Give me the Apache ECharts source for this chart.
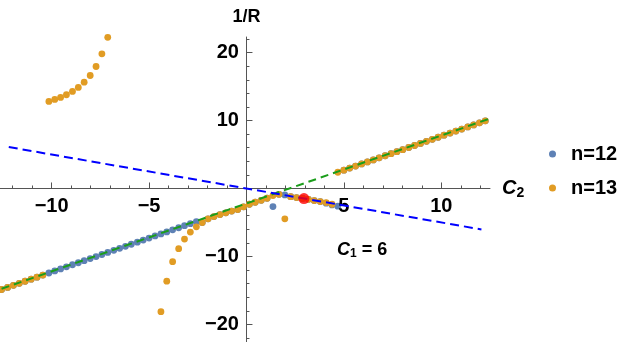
<!DOCTYPE html>
<html><head><meta charset="utf-8">
<script src="https://cdn.jsdelivr.net/npm/echarts@6/dist/echarts.min.js"></script>
<style>html,body{margin:0;padding:0;background:#fff}#c{width:623px;height:342px}</style>
</head><body><div id="c"></div>
<script>
// C2 sample grid
const xGrid = [-12.57,-12.26,-11.96,-11.66,-11.36,-11.05,-10.75,-10.45,-10.14,-9.84,
  -9.54,-9.24,-8.93,-8.63,-8.33,-8.02,-7.72,-7.42,-7.12,-6.81,
  -6.51,-6.21,-5.91,-5.60,-5.30,-5.00,-4.69,-4.39,-4.09,-3.79,
  -3.48,-3.18,-2.88,-2.57,-2.27,-1.97,-1.67,-1.36,-1.06,-0.76,
  -0.45,-0.15,0.15,0.45,0.76,1.06,1.36,1.67,1.97,2.27,
  2.57,2.88,3.18,3.48,3.79,4.09,4.39,4.69,5.00,5.30,
  5.60,5.91,6.21,6.51,6.81,7.12,7.42,7.72,8.02,8.33,
  8.63,8.93,9.24,9.54,9.84,10.14,10.45,10.75,11.05,11.36,
  11.66,11.96,12.26,12.57];
// 1/R for n=12
const n12 = [-14.87,-14.56,-14.26,-13.96,-13.66,-13.35,-13.05,-12.75,-12.44,-12.14,
  -11.84,-11.54,-11.23,-10.93,-10.63,-10.32,-10.02,-9.72,-9.42,-9.11,
  -8.81,-8.51,-8.21,-7.90,-7.60,-7.30,-6.99,-6.69,-6.39,-6.09,
  -5.78,-5.48,-5.18,-4.87,-5.01,-4.47,-4.13,-3.84,-3.58,-3.32,
  -3.10,-2.70,-2.32,-2.03,-1.74,-1.44,-2.66,-0.86,-0.95,-1.20,
  -1.34,-1.47,-1.59,-1.78,-1.93,-2.17,-2.42,-2.60,2.70,3.00,
  3.30,3.61,3.91,4.21,4.51,4.82,5.12,5.42,5.72,6.03,
  6.33,6.63,6.94,7.24,7.54,7.84,8.15,8.45,8.75,9.06,
  9.36,9.66,9.96,10.27];
// 1/R for n=13
const n13 = [-14.87,-14.56,-14.26,-13.96,-13.66,-13.35,-13.05,-12.75,12.82,13.11,
  13.41,13.80,14.29,14.87,15.65,16.63,17.96,19.82,22.25,25.8,
  31.0,42.0,80.0,-90.0,-52.0,-37.0,-25.5,-18.14,-13.65,-10.77,
  -8.86,-7.45,-6.42,-5.64,-5.01,-4.47,-4.13,-3.84,-3.58,-3.32,
  -3.10,-2.70,-2.32,-2.03,-1.74,-1.44,-1.05,-0.86,-4.47,-1.20,
  -1.34,-1.47,-1.59,-1.78,-1.93,-2.08,-2.32,2.39,2.70,3.00,
  3.30,3.61,3.91,4.21,4.51,4.82,5.12,5.42,5.72,6.03,
  6.33,6.63,6.94,7.24,7.54,7.84,8.15,8.45,8.75,9.06,
  9.36,9.66,9.96,10.27];
const greenLine = [[-12.57,-14.77],[12.57,10.37]];
const blueLine = [[-12.2,6.1],[12.06,-6.03]];
const redPoint = [[2.95,-1.49]];
const xMajorTicks = [-10,-5,5,10];
const xMinorTicks = [-12,-11,-10,-9,-8,-7,-6,-5,-4,-3,-2,-1,1,2,3,4,5,6,7,8,9,10,11,12];
const yMajorTicks = [-20,-10,10,20];
const yMinorTicks = [-22,-20,-18,-16,-14,-12,-10,-8,-6,-4,-2,2,4,6,8,10,12,14,16,18,20,22];
const seriesNames = ['n=12','n=13'];

const FONT = '"Liberation Sans", Arial, sans-serif';
const fmt = v => v < 0 ? '\u2212' + Math.abs(v) : String(v);
const pts = ys => xGrid.map((x,i) => [x, ys[i]]);
const X = {min:-12.65, max:12.5};
const Y = {min:-22.6, max:22.3};
const tickLabelFont = {fontFamily:FONT, fontWeight:'bold', fontSize:20, color:'#000', opacity:1};

const chart = echarts.init(document.getElementById('c'));
chart.setOption({
  animation:false,
  grid:{left:0, right:133, top:37, bottom:0, containLabel:false, outerBoundsMode:'none'},
  xAxis:[
    {type:'value', min:X.min, max:X.max, position:'bottom',
     axisLine:{onZero:true, lineStyle:{color:'#555', width:1}},
     axisTick:{show:true, inside:true, length:6, customValues:xMajorTicks, lineStyle:{color:'#555'}},
     axisLabel:{show:false},
     splitLine:{show:false},
     name:'{i|C}{s|2}', nameLocation:'end', nameGap:12,
     nameTextStyle:{rich:{
       i:{fontFamily:FONT, fontStyle:'italic', fontWeight:'bold', fontSize:20, color:'#000'},
       s:{fontFamily:FONT, fontWeight:'bold', fontSize:14, color:'#000', padding:[10,0,0,0]}}}},
    {type:'value', min:X.min, max:X.max, position:'bottom',
     axisLine:{show:false, onZero:true},
     axisTick:{show:true, inside:true, length:3, customValues:xMinorTicks, lineStyle:{color:'#555'}},
     axisLabel:{show:false}, splitLine:{show:false}}
  ],
  yAxis:[
    {type:'value', min:Y.min, max:Y.max, position:'left',
     axisLine:{onZero:true, lineStyle:{color:'#555', width:1}},
     axisTick:{show:true, inside:true, length:6, customValues:yMajorTicks, lineStyle:{color:'#555'}},
     axisLabel:{show:false},
     splitLine:{show:false},
     name:'1/R', nameLocation:'end', nameGap:11,
     nameTextStyle:{fontFamily:FONT, fontWeight:'bold', fontSize:18, color:'#000', align:'center'}},
    {type:'value', min:Y.min, max:Y.max, position:'left',
     axisLine:{show:false, onZero:true},
     axisTick:{show:true, inside:true, length:3, customValues:yMinorTicks, lineStyle:{color:'#555'}},
     axisLabel:{show:false}, splitLine:{show:false}}
  ],
  legend:{
    orient:'vertical', left:544, top:139, itemWidth:7, itemHeight:7, itemGap:14,
    icon:'circle', data:seriesNames,
    textStyle:{fontFamily:FONT, fontWeight:'bold', fontSize:20, color:'#000', padding:[0,0,0,10]}
  },
  graphic:[{
    type:'text', left:337, top:241,
    style:{text:'{i|C}{s|1}{t| = 6}', rich:{
      i:{fontFamily:FONT, fontStyle:'italic', fontWeight:'bold', fontSize:18, fill:'#000'},
      s:{fontFamily:FONT, fontWeight:'bold', fontSize:12, fill:'#000', padding:[8,0,0,0]},
      t:{fontFamily:FONT, fontWeight:'bold', fontSize:18, fill:'#000'}}}
  }],
  series:[
    {type:'line', data:greenLine, symbol:'none', silent:true, clip:true,
     lineStyle:{color:'#1a9d1a', width:2, type:[8,5]}},
    {type:'line', data:blueLine, symbol:'none', silent:true, clip:true,
     lineStyle:{color:'#0000ff', width:2, type:[9,5]}},
    {name:seriesNames[0], type:'scatter', data:pts(n12), symbolSize:6.8, clip:true,
     itemStyle:{color:'#5E81B5', opacity:1}},
    {name:seriesNames[1], type:'scatter', data:pts(n13), symbolSize:6.8, clip:true,
     itemStyle:{color:'#E19C24', opacity:1}},
    {type:'scatter', data:redPoint, symbolSize:11, itemStyle:{color:'#ff0000'}, z:5},
    {type:'scatter', silent:true, clip:false, symbolSize:1, itemStyle:{color:'rgba(0,0,0,0)'},
     data:xMajorTicks.map(v => [v, 0]), labelLayout:{hideOverlap:false},
     label:{show:true, position:'bottom', distance:8, formatter:p => fmt(p.value[0]), ...tickLabelFont}},
    {type:'scatter', silent:true, clip:false, symbolSize:1, itemStyle:{color:'rgba(0,0,0,0)'},
     data:yMajorTicks.map(v => [0, v]), labelLayout:{hideOverlap:false},
     label:{show:true, position:'left', distance:7, formatter:p => fmt(p.value[1]), ...tickLabelFont}}
  ]
});
</script></body></html>
